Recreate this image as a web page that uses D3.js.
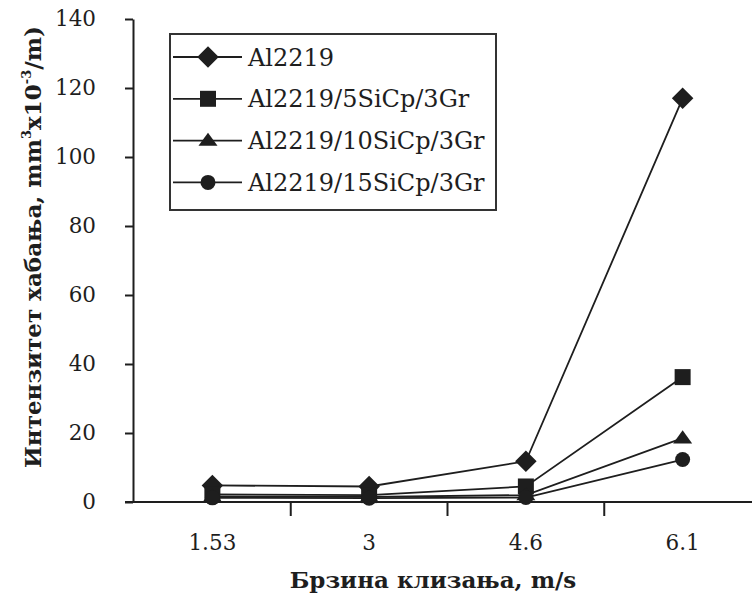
<!DOCTYPE html>
<html>
<head>
<meta charset="utf-8">
<script src="https://cdn.jsdelivr.net/npm/d3@7/dist/d3.min.js"></script>
<style>
  html, body { margin: 0; padding: 0; background: #fff; }
  svg { display: block; }
  text { font-family: "DejaVu Serif", serif; fill: #1e1e1e; }
</style>
</head>
<body>
<svg id="chart" width="752" height="597"></svg>
<script>
// Sliding speed categories (m/s)
const speeds = ["1.53", "3", "4.6", "6.1"];

// Wear rate, mm^3 x 10^-3 / m
const seriesNames = ["Al2219", "Al2219/5SiCp/3Gr", "Al2219/10SiCp/3Gr", "Al2219/15SiCp/3Gr"];
const al2219      = [4.8, 4.5, 11.8, 117];
const al5SiCp     = [2.2, 2.0, 4.5, 36.2];
const al10SiCp    = [1.6, 1.5, 2.0, 18.5];
const al15SiCp    = [1.2, 1.1, 1.3, 12.3];
const yTicks = [0, 20, 40, 60, 80, 100, 120, 140];

const seriesValues = [al2219, al5SiCp, al10SiCp, al15SiCp];

// Marker shapes: a square turned 45°, a square, a wide flat triangle, a circle
const diamond = {
  draw(ctx, size) {
    const r = Math.sqrt(size / 2);
    ctx.moveTo(0, -r); ctx.lineTo(r, 0); ctx.lineTo(0, r); ctx.lineTo(-r, 0); ctx.closePath();
  }
};
const flatTriangle = {
  draw(ctx, size) {
    const w = Math.sqrt(size * 2 * 19 / 13), h = w * 13 / 19;
    ctx.moveTo(0, -h * 0.6); ctx.lineTo(w / 2, h * 0.4); ctx.lineTo(-w / 2, h * 0.4); ctx.closePath();
  }
};
const markerTypes = [diamond, d3.symbolSquare, flatTriangle, d3.symbolCircle];
const markerSizes = [232, 256, 124, 177];

const ink = "#1e1e1e";
const svg = d3.select("#chart");

const x = d3.scaleBand().domain(speeds).range([134, 761]).paddingInner(0).paddingOuter(0);
const y = d3.scaleLinear().domain([0, 140]).range([502, 19]);
const cx = d => x(d) + x.bandwidth() / 2;

// Y axis
const yAxis = svg.append("g")
  .attr("transform", `translate(${x.range()[0] - 1},0)`)
  .call(d3.axisLeft(y).tickValues(yTicks).tickSize(8).tickPadding(29).tickSizeOuter(0));
yAxis.select(".domain").attr("stroke", ink).attr("stroke-width", 2);
yAxis.selectAll(".tick line").attr("stroke", ink).attr("stroke-width", 2);
yAxis.selectAll(".tick text").attr("font-size", 21.5).attr("font-family", "DejaVu Serif");

// X axis: labels centred in each band, tick marks on the band boundaries
const xAxis = svg.append("g")
  .attr("transform", `translate(0,${y(0)})`)
  .call(d3.axisBottom(x).tickSize(0).tickPadding(33).tickSizeOuter(0));
xAxis.select(".domain").attr("stroke", ink).attr("stroke-width", 2)
  .attr("d", `M${x.range()[0] - 9},0H${x.range()[1]}`);
xAxis.selectAll(".tick text").attr("font-size", 21.5).attr("font-family", "DejaVu Serif");
xAxis.selectAll(".boundary")
  .data(speeds.slice(1))
  .join("line")
  .attr("class", "boundary")
  .attr("x1", d => x(d)).attr("x2", d => x(d))
  .attr("y1", 0).attr("y2", 14)
  .attr("stroke", ink).attr("stroke-width", 2);

// Series lines and markers
const line = d3.line().x((v, i) => cx(speeds[i])).y(v => y(v));
seriesValues.forEach(vals => {
  svg.append("path")
    .attr("d", line(vals))
    .attr("fill", "none")
    .attr("stroke", ink)
    .attr("stroke-width", 1.8);
});
seriesValues.forEach((vals, s) => {
  svg.append("g").selectAll("path")
    .data(vals)
    .join("path")
    .attr("transform", (v, i) => `translate(${cx(speeds[i])},${y(v)})`)
    .attr("d", d3.symbol().type(markerTypes[s]).size(markerSizes[s]))
    .attr("fill", ink);
});

// Legend
const legend = svg.append("g");
legend.append("rect")
  .attr("x", 170).attr("y", 34).attr("width", 326).attr("height", 176)
  .attr("fill", "#fff").attr("stroke", "#333").attr("stroke-width", 2);
seriesNames.forEach((name, s) => {
  const ly = 57 + s * 41.8;
  legend.append("line")
    .attr("x1", 173).attr("x2", 242).attr("y1", ly).attr("y2", ly)
    .attr("stroke", ink).attr("stroke-width", 1.8);
  legend.append("path")
    .attr("transform", `translate(208,${ly})`)
    .attr("d", d3.symbol().type(markerTypes[s]).size(markerSizes[s]))
    .attr("fill", ink);
  legend.append("text")
    .attr("x", 248).attr("y", ly + 8.5)
    .attr("font-size", 24)
    .text(name);
});

// Axis titles
svg.append("text")
  .attr("x", 433).attr("y", 588)
  .attr("text-anchor", "middle")
  .attr("font-size", 23).attr("font-weight", "bold")
  .text("Брзина клизања, m/s");

const yTitle = svg.append("text")
  .attr("transform", "translate(41,247) rotate(-90)")
  .attr("text-anchor", "middle")
  .attr("font-size", 23).attr("font-weight", "bold");
yTitle.append("tspan").text("Интензитет хабања, mm");
yTitle.append("tspan").attr("font-size", 13).attr("dy", -10).text("3");
yTitle.append("tspan").attr("dy", 10).text("x10");
yTitle.append("tspan").attr("font-size", 13).attr("dy", -10).text("-3");
yTitle.append("tspan").attr("dy", 10).text("/m)");
</script>
</body>
</html>
